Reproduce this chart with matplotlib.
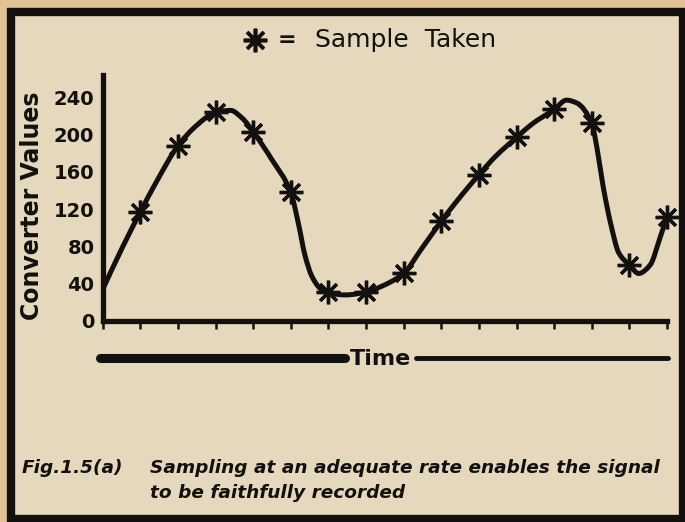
import numpy as np
import matplotlib
matplotlib.use("Agg")
import matplotlib.pyplot as plt
from matplotlib.path import Path
from matplotlib.patches import PathPatch, Rectangle
from matplotlib.lines import Line2D

# samples taken at each tick (tick 1..15)
sample_t = list(range(1, 16))
sample_v = [117, 188, 224, 203, 138, 31, 31, 51, 107, 157, 197, 227, 212, 60, 112]

# points
curve_t = [0, 0.5, 1, 1.45, 2, 2.5, 3, 3.4, 3.7, 4, 4.5, 5, 5.2, 5.38, 5.56, 5.78,
           6, 6.45, 7, 7.4, 8, 8.45, 9, 9.4, 10, 10.45, 11, 11.4, 12, 12.33, 12.6,
           13, 13.15, 13.3, 13.5, 13.72, 14, 14.25, 14.55, 14.82, 15]
curve_v = [34, 77, 117, 151, 188, 210, 224, 226, 218, 203, 173, 138, 105, 70, 48, 35,
           30, 28, 31, 37, 51, 76, 107, 128, 157, 177, 197, 211, 227, 237, 234,
           212, 183, 145, 105, 73, 60, 51, 60, 90, 112]

y_ticks = [0, 40, 80, 120, 160, 200, 240]

W, H = 685, 522
outer_bg = "#e0c294"
inner_bg = "#e6d8bc"
ink = "#121110"


def fx(px):
    return px / W


def fy(py):
    return 1 - py / H


def smooth_path(t, v):
    # monotone cubic (Fritsch-Carlson) bezier segments through the read points
    t = np.asarray(t, float)
    v = np.asarray(v, float)
    h = np.diff(t)
    d = np.diff(v) / h
    m = np.zeros_like(v)
    m[0], m[-1] = d[0], d[-1]
    for i in range(1, len(v) - 1):
        if d[i - 1] * d[i] > 0:
            w1 = 2 * h[i] + h[i - 1]
            w2 = h[i] + 2 * h[i - 1]
            m[i] = (w1 + w2) / (w1 / d[i - 1] + w2 / d[i])
    verts = [(t[0], v[0])]
    codes = [Path.MOVETO]
    for i in range(len(h)):
        verts += [(t[i] + h[i] / 3, v[i] + m[i] * h[i] / 3),
                  (t[i + 1] - h[i] / 3, v[i + 1] - m[i + 1] * h[i] / 3),
                  (t[i + 1], v[i + 1])]
        codes += [Path.CURVE4] * 3
    return Path(verts, codes)


fig = plt.figure(figsize=(W / 100, H / 100), dpi=100, facecolor=outer_bg)

# the boxed page area
box = Rectangle((fx(11), fy(519)), fx(683) - fx(11), fy(11.5) - fy(519),
                transform=fig.transFigure, facecolor=inner_bg, edgecolor=ink,
                linewidth=6, zorder=-5)
fig.patches.append(box)

ax = fig.add_axes([fx(102.7), fy(321), fx(667) - fx(102.7), fy(75) - fy(321)])
ax.set_facecolor("none")
ax.set_xlim(0, 15)
ax.set_ylim(0, 264)

ax.add_patch(PathPatch(smooth_path(curve_t, curve_v), facecolor="none", edgecolor=ink,
                       linewidth=3.6, capstyle="round", joinstyle="round", zorder=3))

ax.plot(sample_t, sample_v, linestyle="none", marker=(8, 2, 0), markersize=17,
        markeredgewidth=2.4, color=ink, zorder=4, clip_on=False)

for s in ["top", "right"]:
    ax.spines[s].set_visible(False)
for s in ["left", "bottom"]:
    ax.spines[s].set_linewidth(3.8)
    ax.spines[s].set_color(ink)
    ax.spines[s].set_capstyle("projecting")

ax.set_xticks(range(0, 16))
ax.set_xticklabels([])
ax.tick_params(axis="x", direction="out", length=6, width=1.8, color=ink)
ax.set_yticks(y_ticks)
ax.set_yticklabels([str(v) for v in y_ticks], fontsize=14, fontweight="bold", color=ink)
ax.tick_params(axis="y", length=0, pad=6)

fig.text(fx(32), fy(206), "Converter Values", rotation=90, ha="center", va="center",
         fontsize=17, fontweight="bold", color=ink)

# legend line at the top
fig.add_artist(Line2D([fx(255)], [fy(40)], marker=(8, 2, 0), markersize=17,
                      markeredgewidth=2.6, color=ink, transform=fig.transFigure))
fig.text(fx(287), fy(40), "=", ha="center", va="center", fontsize=16,
         fontweight="bold", color=ink)
fig.text(fx(315), fy(40), "Sample  Taken", ha="left", va="center", fontsize=18,
         color=ink)

# time axis label with bars
fig.add_artist(Line2D([fx(100), fx(345)], [fy(358), fy(358)], linewidth=6.5,
                      color=ink, solid_capstyle="round", transform=fig.transFigure))
fig.add_artist(Line2D([fx(416), fx(668)], [fy(358), fy(358)], linewidth=3.5,
                      color=ink, solid_capstyle="round", transform=fig.transFigure))
fig.text(fx(380), fy(359), "Time", ha="center", va="center", fontsize=16,
         fontweight="bold", color=ink)

# caption
cap_kw = dict(fontsize=13.3, fontweight="bold", style="italic", color=ink, va="center")
fig.text(fx(22), fy(468), "Fig.1.5(a)", ha="left", **cap_kw)
fig.text(fx(150), fy(468), "Sampling at an adequate rate enables the signal", ha="left", **cap_kw)
fig.text(fx(150), fy(493), "to be faithfully recorded", ha="left", **cap_kw)

fig.savefig("out.png", dpi=100, facecolor=outer_bg)
